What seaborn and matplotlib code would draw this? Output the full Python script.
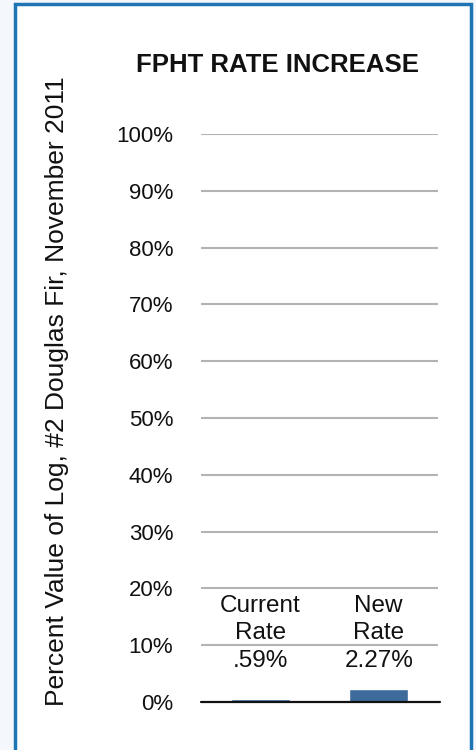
import matplotlib
matplotlib.use("Agg")
import matplotlib.pyplot as plt
from matplotlib.patches import Rectangle
import seaborn as sns
import pandas as pd

# chart data
categories = ["Current\nRate", "New\nRate"]
rates = [0.59, 2.27]
rate_labels = [".59%", "2.27%"]
y_ticks = [0, 10, 20, 30, 40, 50, 60, 70, 80, 90, 100]

TITLE = "FPHT RATE INCREASE"
Y_LABEL = "Percent Value of Log, #2 Douglas Fir, November 2011"

BAR_COLOR = "#3d6b9c"
FRAME_COLOR = "#1f74b4"

sns.set_theme(style="white")
plt.rcParams["font.family"] = ["Liberation Sans", "DejaVu Sans"]

df = pd.DataFrame({"category": categories, "rate": rates})

fig = plt.figure(figsize=(4.76, 7.5), dpi=100, facecolor="#f4f8fc")

# white panel with blue frame, drawn behind the axes
frame = Rectangle((15 / 476, -0.05), (471 - 15) / 476, 1.05 - 4 / 750,
                  transform=fig.transFigure, facecolor="white",
                  edgecolor=FRAME_COLOR, linewidth=2.5, zorder=-5)
fig.patches.append(frame)

ax = fig.add_axes([201 / 476, 48 / 750, 237 / 476, 568 / 750])
ax.set_facecolor("none")
ax.set_zorder(2)

sns.barplot(data=df, x="category", y="rate", color=BAR_COLOR,
            width=0.5, saturation=1, ax=ax, zorder=3)

ax.set_ylim(0, 100)
ax.set_yticks(y_ticks)
ax.set_yticklabels([f"{t}%" for t in y_ticks], fontsize=16, color="#111111")
ax.tick_params(axis="y", length=0, pad=20)
ax.set_xticks([])
ax.set_xlabel("")
ax.set_ylabel("")

for t in y_ticks[1:]:
    ax.axhline(t, color="#b3b3b3", linewidth=1.5, zorder=1)
ax.axhline(0, color="#111111", linewidth=1.6, zorder=4, xmax=1.01, clip_on=False)

for s in ax.spines.values():
    s.set_visible(False)

# category and value labels above the bars, one line each
line_y = [15.9, 11.1, 6.16]
for i, (cat, lab) in enumerate(zip(categories, rate_labels)):
    lines = cat.split("\n") + [lab]
    for y, line in zip(line_y, lines):
        ax.text(i, y, line, ha="center", va="baseline",
                fontsize=17.5, color="#111111")

fig.text(277 / 476, 1 - 65 / 750, TITLE, ha="center", va="center",
         fontsize=18.5, fontweight="bold", color="#111111")
fig.text(57 / 476, 1 - 391 / 750, Y_LABEL, ha="center", va="center",
         rotation=90, fontsize=19, color="#111111")

fig.savefig("out.png", dpi=100, facecolor=fig.get_facecolor())
